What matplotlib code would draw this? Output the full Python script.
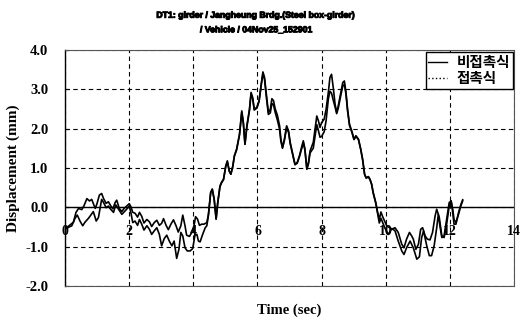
#!/usr/bin/env python
# -*- coding: utf-8 -*-
"""Displacement time history, DT1 girder."""
import matplotlib

matplotlib.use("Agg")
import matplotlib.pyplot as plt
import matplotlib.patheffects as pe
from matplotlib.lines import Line2D

# 비접촉식 (non-contact)
t_nc = [0, 0.26, 0.34, 0.42, 0.52, 0.59, 0.68, 0.76, 0.83, 0.94, 0.99, 1.07,
        1.14, 1.20, 1.28, 1.35, 1.42, 1.49, 1.56, 1.61, 1.69, 1.77, 1.84, 1.92,
        2.00, 2.05, 2.11, 2.18, 2.26, 2.32, 2.39, 2.46, 2.55, 2.63, 2.70, 2.78,
        2.86, 2.94, 3.01, 3.07, 3.15, 3.22, 3.30, 3.38, 3.46, 3.53, 3.61, 3.67,
        3.74, 3.79, 3.88, 3.95, 4.02, 4.07, 4.13, 4.19, 4.26, 4.33, 4.42, 4.47,
        4.54, 4.59, 4.65, 4.71, 4.76, 4.83, 4.88, 4.94, 5.01, 5.06, 5.12, 5.17,
        5.23, 5.28, 5.35, 5.44, 5.51, 5.56, 5.61, 5.67, 5.75, 5.80, 5.85, 5.90,
        5.98, 6.05, 6.11, 6.17, 6.22, 6.27, 6.34, 6.40, 6.45, 6.50, 6.55, 6.62,
        6.69, 6.73, 6.78, 6.84, 6.91, 6.97, 7.02, 7.10, 7.17, 7.24, 7.31, 7.38,
        7.43, 7.48, 7.54, 7.59, 7.64, 7.74, 7.85, 7.90, 7.95, 8.00, 8.08, 8.14,
        8.21, 8.26, 8.31, 8.37, 8.42, 8.47, 8.52, 8.60, 8.66, 8.71, 8.76, 8.81,
        8.87, 8.94, 9.01, 9.07, 9.15, 9.22, 9.28, 9.34, 9.39, 9.46, 9.51, 9.56,
        9.61, 9.69, 9.75, 9.80, 9.85, 9.91, 10.03, 10.19, 10.29, 10.39, 10.50,
        10.57, 10.65, 10.74, 10.81, 10.86, 10.94, 11.02, 11.09, 11.15, 11.23,
        11.30, 11.38, 11.46, 11.54, 11.59, 11.67, 11.75, 11.82, 11.90, 11.98,
        12.04, 12.09, 12.13, 12.19, 12.27, 12.34, 12.40]
v_nc = [-0.55, -0.38, -0.13, -0.03, -0.06, 0.04, 0.22, 0.16, 0.20, -0.03, 0.08,
        0.31, 0.35, 0.22, 0.10, 0.14, 0.04, -0.04, 0.12, 0.18, -0.03, -0.11,
        -0.03, 0.03, 0.09, 0.02, -0.13, -0.15, -0.25, -0.13, -0.23, -0.40,
        -0.31, -0.37, -0.49, -0.39, -0.33, -0.46, -0.41, -0.29, -0.46, -0.57,
        -0.43, -0.32, -0.47, -0.63, -0.47, -0.20, -0.47, -0.71, -0.74, -0.64,
        -0.47, -0.24, -0.30, -0.46, -0.43, -0.43, -0.39, -0.18, 0.37, 0.46,
        0.20, -0.30, 0.12, 0.54, 0.64, 0.71, 1.05, 1.18, 0.92, 0.84, 1.05, 1.31,
        1.48, 1.86, 2.45, 2.15, 1.60, 2.07, 2.49, 2.92, 2.79, 2.49, 2.54, 2.71,
        3.09, 3.44, 3.30, 2.92, 2.41, 2.49, 2.76, 2.71, 2.51, 2.34, 2.07, 1.73,
        1.52, 1.73, 2.07, 1.94, 1.65, 1.35, 1.09, 1.14, 1.31, 1.54, 1.69, 1.48,
        0.97, 1.14, 1.43, 1.65, 2.32, 2.20, 2.03, 2.15, 2.24, 2.49, 2.92, 3.30,
        3.38, 3.00, 2.62, 2.41, 2.58, 2.92, 3.17, 3.21, 2.92, 2.49, 2.11, 1.94,
        1.73, 1.82, 1.73, 1.48, 1.22, 0.84, 0.75, 0.78, 0.71, 0.59, 0.37, 0.12,
        -0.14, -0.31, -0.12, -0.25, -0.47, -0.56, -0.52, -0.64, -0.94, -1.03,
        -0.81, -0.64, -0.73, -0.81, -1.07, -0.94, -0.56, -0.52, -0.73, -0.81,
        -0.83, -0.64, -0.22, -0.05, -0.26, -0.73, -0.77, -0.43, 0.03, 0.16,
        -0.05, -0.31, -0.39, -0.18, 0.03, 0.16]

# 접촉식 (contact)
t_c = [0, 0.21, 0.31, 0.38, 0.47, 0.55, 0.62, 0.73, 0.80, 0.88, 0.97, 1.04,
       1.09, 1.14, 1.20, 1.28, 1.35, 1.42, 1.51, 1.58, 1.66, 1.77, 1.84, 1.92,
       2.00, 2.05, 2.11, 2.18, 2.26, 2.32, 2.39, 2.46, 2.55, 2.63, 2.70, 2.78,
       2.86, 2.94, 3.01, 3.09, 3.17, 3.25, 3.33, 3.40, 3.48, 3.55, 3.61, 3.67,
       3.74, 3.81, 3.90, 3.98, 4.05, 4.11, 4.16, 4.21, 4.29, 4.37, 4.42, 4.47,
       4.54, 4.59, 4.65, 4.71, 4.76, 4.83, 4.88, 4.94, 5.01, 5.06, 5.12, 5.17,
       5.23, 5.28, 5.35, 5.44, 5.51, 5.56, 5.61, 5.67, 5.75, 5.80, 5.85, 5.90,
       5.98, 6.05, 6.11, 6.17, 6.22, 6.27, 6.34, 6.40, 6.45, 6.50, 6.55, 6.62,
       6.69, 6.73, 6.78, 6.84, 6.91, 6.97, 7.02, 7.10, 7.17, 7.24, 7.31, 7.38,
       7.43, 7.48, 7.54, 7.59, 7.64, 7.74, 7.85, 7.90, 7.95, 8.00, 8.08, 8.14,
       8.21, 8.26, 8.31, 8.37, 8.42, 8.47, 8.52, 8.60, 8.66, 8.71, 8.76, 8.81,
       8.87, 8.94, 9.01, 9.07, 9.15, 9.22, 9.28, 9.34, 9.39, 9.46, 9.51, 9.56,
       9.61, 9.69, 9.75, 9.80, 9.85, 9.97, 10.08, 10.19, 10.29, 10.39, 10.50,
       10.57, 10.65, 10.76, 10.86, 10.97, 11.05, 11.12, 11.18, 11.28, 11.36,
       11.43, 11.51, 11.59, 11.64, 11.69, 11.75, 11.82, 11.90, 11.98, 12.04,
       12.09, 12.13, 12.19, 12.27, 12.34, 12.40]
v_c = [-0.55, -0.47, -0.28, -0.20, -0.36, -0.47, -0.38, -0.28, -0.20, -0.11,
       -0.35, -0.26, -0.03, 0.20, 0.12, -0.01, 0.03, -0.05, -0.13, 0.06, -0.04,
       -0.18, -0.12, -0.05, 0.03, -0.13, -0.39, -0.35, -0.46, -0.31, -0.43,
       -0.58, -0.47, -0.56, -0.69, -0.60, -0.52, -0.69, -0.98, -0.80, -0.71,
       -0.86, -0.98, -0.86, -1.30, -1.07, -0.64, -0.73, -1.03, -1.11, -1.11,
       -1.05, -0.71, -0.69, -0.86, -0.88, -0.69, -0.52, -0.47, -0.21, 0.37,
       0.46, 0.20, -0.30, 0.10, 0.52, 0.62, 0.70, 1.03, 1.16, 0.92, 0.84, 1.03,
       1.30, 1.46, 1.84, 2.42, 2.13, 1.60, 2.05, 2.46, 2.88, 2.76, 2.47, 2.52,
       2.69, 3.06, 3.40, 3.25, 2.85, 2.36, 2.40, 2.64, 2.60, 2.42, 2.22, 1.98,
       1.68, 1.50, 1.70, 2.03, 1.90, 1.62, 1.33, 1.08, 1.12, 1.29, 1.50, 1.64,
       1.45, 0.97, 1.10, 1.38, 1.50, 2.10, 1.95, 1.78, 1.80, 1.92, 2.20, 2.75,
       2.95, 2.90, 2.70, 2.55, 2.38, 2.52, 2.85, 3.08, 3.12, 2.88, 2.45, 2.08,
       1.92, 1.72, 1.80, 1.72, 1.47, 1.20, 0.84, 0.74, 0.77, 0.70, 0.58, 0.36,
       0.10, -0.18, -0.40, -0.28, -0.52, -0.69, -0.54, -0.60, -0.86, -1.11,
       -1.20, -1.03, -0.86, -1.03, -1.32, -1.26, -0.77, -0.60, -0.98, -1.23,
       -1.23, -0.98, -0.52, -0.18, -0.47, -0.77, -0.73, -0.31, 0.12, 0.16,
       -0.14, -0.43, -0.43, -0.14, 0.06, 0.19]

labels = ["비접촉식", "접촉식"]
x_ticks = [0, 2, 4, 6, 8, 10, 12, 14]
y_ticks = [-2.0, -1.0, 0.0, 1.0, 2.0, 3.0, 4.0]
title = "DT1: girder / Jangheung Brdg.(Steel box-girder)\n/ Vehicle / 04Nov25_152901"


def main():
    """Run main."""
    serif = "Liberation Serif"
    fig = plt.figure(figsize=(5.25, 3.22), dpi=100)
    ax = fig.add_axes([0.124, 0.112, 0.855, 0.733])

    ax.plot(t_nc, v_nc, color="black", lw=1.2)
    ax.plot(t_c, v_c, color="black", lw=1.2)
    ax.axhline(0, color="black", lw=1.0)

    ax.set_xlim(x_ticks[0], x_ticks[-1])
    ax.set_ylim(y_ticks[0], y_ticks[-1])
    ax.set_xticks(x_ticks)
    ax.set_yticks(y_ticks)
    ax.set_xticklabels([])
    ax.set_yticklabels(["%.1f" % v for v in y_ticks],
                       fontfamily=serif, fontweight="bold", fontsize=10.5)
    ax.tick_params(axis="y", direction="in", length=3, pad=12)
    ax.tick_params(axis="x", length=0)
    ax.grid(True, color="black", lw=0.8, ls=(0, (4, 3)))

    for side in ["top", "right", "bottom"]:
        ax.spines[side].set_linestyle((0, (1, 1)))
        ax.spines[side].set_linewidth(0.8)
        ax.spines[side].set_color("#555555")
    ax.spines["left"].set_linewidth(1.0)

    # x labels sit just under the zero line
    for x in x_ticks:
        ax.text(x, -0.62, str(x), ha="center", va="center",
                fontfamily=serif, fontweight="bold", fontsize=10)

    ax.set_ylabel("Displacement (mm)", fontfamily=serif, fontweight="bold",
                  fontsize=11, labelpad=4)
    ax.set_xlabel("Time (sec)", fontfamily=serif, fontweight="bold",
                  fontsize=10.5, labelpad=9)

    fig.text(0.488, 0.93, title, ha="center", va="center",
             fontfamily="Liberation Sans", fontweight="bold", fontsize=6.3,
             linespacing=1.8,
             path_effects=[pe.withStroke(linewidth=0.7, foreground="black")])

    handles = [Line2D([], [], color="black", lw=1.0),
               Line2D([], [], color="black", lw=1.0, ls=":")]
    leg = ax.legend(handles, labels, loc="upper right",
                    bbox_to_anchor=(0.997, 0.99), frameon=True, fancybox=False,
                    edgecolor="black", framealpha=1, handlelength=1.3,
                    handletextpad=0.7, labelspacing=0.0, borderpad=0.15,
                    borderaxespad=0.0,
                    prop={"family": ["Noto Sans CJK KR", "DejaVu Sans"],
                          "size": 10.5, "weight": "bold"})
    leg.get_frame().set_linewidth(1.0)

    fig.savefig("out.png", dpi=100)


if __name__ == "__main__":
    main()
